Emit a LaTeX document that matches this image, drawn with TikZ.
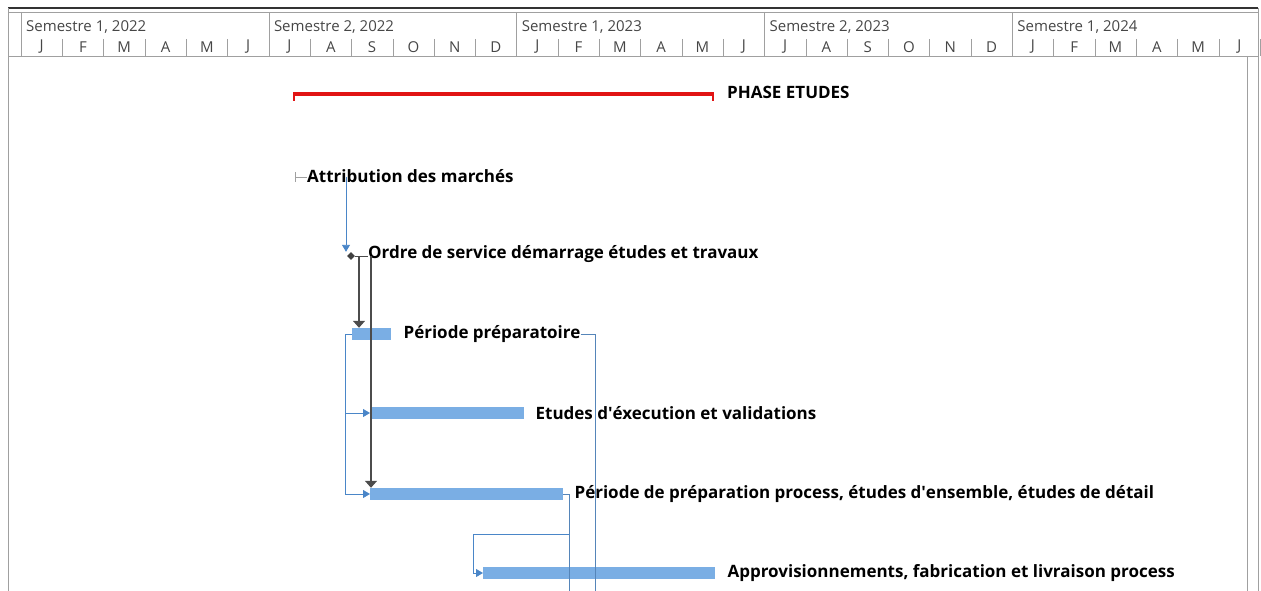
\documentclass[tikz,border=0pt]{standalone}
\usepackage{fontspec}
\setmainfont{Open Sans}
\usepackage{tikz}
\usetikzlibrary{arrows.meta,positioning,shapes.geometric}
\definecolor{barblue}{RGB}{122,174,228}
\definecolor{linkblue}{RGB}{74,134,200}
\definecolor{hdrgray}{RGB}{70,70,70}
\definecolor{gridgray}{RGB}{160,160,160}
\definecolor{phasered}{RGB}{225,20,20}
\tikzset{
  taskbar/.style={fill=barblue, draw=none, minimum height=12pt, inner sep=0pt, anchor=west},
  tasklbl/.style={font=\bfseries\fontsize{17}{20}\selectfont, inner sep=0pt, anchor=west},
  hdrtxt/.style={font=\fontsize{15}{18}\selectfont, text=hdrgray, inner sep=0pt},
  bluelink/.style={linkblue, line width=0.9pt, -{Triangle[length=7pt,width=8pt]}},
  darklink/.style={black!70, line width=1.3pt, -{Triangle[length=7pt,width=12pt]}},
  plainlink/.style={linkblue!80!gray, line width=0.9pt},
}
\begin{document}
\begin{tikzpicture}[x=1pt, y=-1pt]
  \useasboundingbox (0,0) rectangle (1261,591);
  % cadre et en-tete
  \draw[black!80, line width=2pt] (8,8) -- (1258,8);
  \draw[gridgray] (8,12) -- (1258,12);
  \draw[gridgray] (8,8) -- (8,591);
  \draw[gridgray] (1258,8) -- (1258,591);
  \draw[gridgray] (8,56) -- (1258,56);
  \draw[gridgray] (1247,56) -- (1247,591);
  \foreach \s/\lbl in {0/{Semestre 1, 2022}, 1/{Semestre 2, 2022}, 2/{Semestre 1, 2023}, 3/{Semestre 2, 2023}, 4/{Semestre 1, 2024}} {
    \draw[gridgray] (21+\s*247.8,12) -- (21+\s*247.8,56);
    \node[hdrtxt, anchor=west] (sem\s) at (26+\s*247.8,27) {\lbl};
  }
  \foreach \m [count=\i from 0] in {J,F,M,A,M,J,J,A,S,O,N,D,J,F,M,A,M,J,J,A,S,O,N,D,J,F,M,A,M,J} {
    \draw[gridgray] (21+\i*41.3+41.3,39) -- (21+\i*41.3+41.3,56);
    \node[hdrtxt] (mois\i) at (21+\i*41.3+20.65,47) {\m};
  }
  % phase
  \draw[phasered, line width=3.5pt] (293,94) -- (714,94);
  \draw[phasered, line width=2.5pt] (294,94) -- (294,101);
  \draw[phasered, line width=2.5pt] (713,94) -- (713,101);
  \node[tasklbl] (phase) at (727,92) {PHASE ETUDES};
  % jalons
  \draw[gridgray, line width=1pt] (295,172) -- (295,182);
  \coordinate (attr) at (295,177);
  \node[tasklbl, right=12pt of attr, yshift=1pt] (attrlbl) {Attribution des marchés};
  \draw[gridgray] (attr) -- (attr -| attrlbl.west);
  \node[fill=black!75, diamond, inner sep=0pt, minimum size=8pt, shape aspect=1] (ordre) at (351,256) {};
  \node[tasklbl] (ordrelbl) at (368,254) {Ordre de service démarrage études et travaux};
  \draw[black!70] (ordre) -- (ordre -| ordrelbl.west);
  % taches
  \node[taskbar, minimum width=39pt] (prep) at (352,334) {};
  \node[tasklbl, right=12pt of prep] (preplbl) {Période préparatoire};
  \node[taskbar, minimum width=154pt] (etu) at (370,413) {};
  \node[tasklbl, right=11pt of etu] (etulbl) {Etudes d\textquotesingle éxecution et validations};
  \node[taskbar, minimum width=193pt] (proc) at (370,494) {};
  \node[tasklbl, right=11pt of proc] (proclbl) {Période de préparation process, études d\textquotesingle ensemble, études de détail};
  \node[taskbar, minimum width=232pt] (appro) at (483,573) {};
  \node[tasklbl, right=12pt of appro] (approlbl) {Approvisionnements, fabrication et livraison process};
  % liaisons
  \draw[bluelink] ([xshift=-5pt]ordre.center |- attr) -- ([xshift=-5pt]ordre.north);
  \draw[darklink] ([xshift=8pt]ordre.center) -- ([xshift=7pt]prep.north west);
  \draw[darklink] ([xshift=20pt]ordre.center) -- ([xshift=1pt]proc.north west);
  \draw[bluelink] (prep.west) -- ++(-7pt,0) |- (etu.west);
  \draw[bluelink] (prep.west) -- ++(-7pt,0) |- (proc.west);
  \coordinate (bas1) at (595,591);
  \draw[plainlink] (prep.east -| preplbl.east) -| (bas1);
  \coordinate (bas2) at (569,591);
  \draw[plainlink] (proc.east) -| (bas2);
  \draw[bluelink] (569,534) -- (473,534) |- (appro.west);
\end{tikzpicture}
\end{document}
